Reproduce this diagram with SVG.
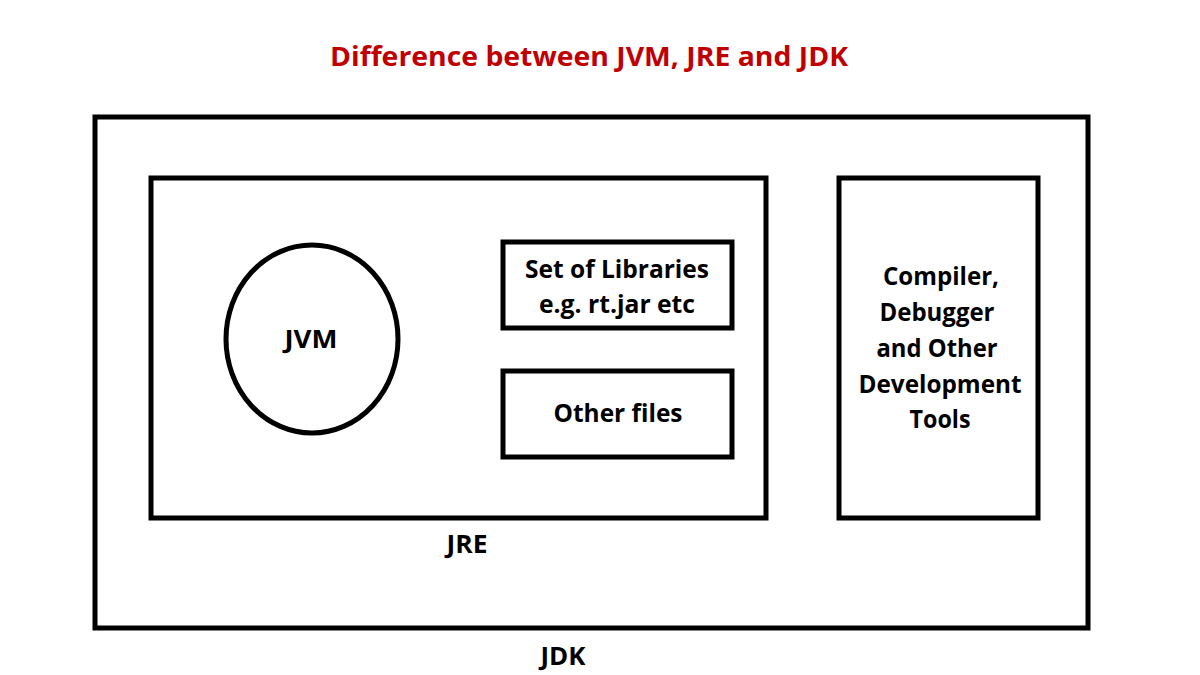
<svg xmlns="http://www.w3.org/2000/svg" width="1200" height="675" viewBox="0 0 1200 675">
<style>
.box{fill:none;stroke:#000;stroke-width:5}
.t{font-family:"Open Sans","Liberation Sans",sans-serif;font-weight:bold;font-size:25px;fill:#000;text-anchor:middle}
.title{fill:#C00000;font-size:26px}
</style>
<rect width="1200" height="675" fill="#fff"/>
<text class="t title" x="589" y="66" textLength="518" lengthAdjust="spacingAndGlyphs">Difference between JVM, JRE and JDK</text>
<g id="jdk">
<rect class="box" x="95" y="117" width="993" height="511"/>
<text class="t" x="563" y="665" textLength="45" lengthAdjust="spacingAndGlyphs">JDK</text>
</g>
<g id="jre">
<rect class="box" x="151" y="178" width="615" height="340"/>
<text class="t" x="467" y="553" textLength="41" lengthAdjust="spacingAndGlyphs">JRE</text>
</g>
<g id="jvm">
<ellipse class="box" cx="312" cy="339" rx="86" ry="94"/>
<text class="t" x="311" y="348" textLength="53" lengthAdjust="spacingAndGlyphs">JVM</text>
</g>
<g id="libraries">
<rect class="box" x="503" y="242" width="229" height="86"/>
<text class="t" x="617" y="278" textLength="184" lengthAdjust="spacingAndGlyphs">Set of Libraries</text>
<text class="t" x="617" y="313" textLength="156" lengthAdjust="spacingAndGlyphs">e.g. rt.jar etc</text>
</g>
<g id="other-files">
<rect class="box" x="503" y="371" width="229" height="86"/>
<text class="t" x="618" y="422" textLength="129" lengthAdjust="spacingAndGlyphs">Other files</text>
</g>
<g id="dev-tools">
<rect class="box" x="839" y="178" width="199" height="340"/>
<text class="t" x="941" y="285" textLength="116" lengthAdjust="spacingAndGlyphs">Compiler,</text>
<text class="t" x="937" y="321" textLength="115" lengthAdjust="spacingAndGlyphs">Debugger</text>
<text class="t" x="937" y="357" textLength="121" lengthAdjust="spacingAndGlyphs">and Other</text>
<text class="t" x="940" y="393" textLength="163" lengthAdjust="spacingAndGlyphs">Development</text>
<text class="t" x="940" y="428" textLength="61" lengthAdjust="spacingAndGlyphs">Tools</text>
</g>
<g id="connectors"></g>
</svg>
